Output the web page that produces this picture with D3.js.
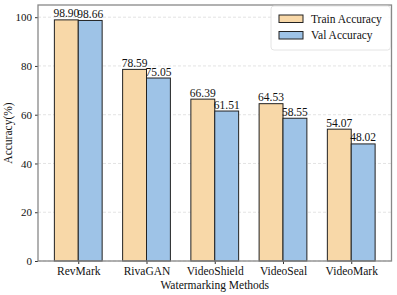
<!DOCTYPE html>
<html>
<head>
<meta charset="utf-8">
<script src="https://cdn.jsdelivr.net/npm/d3@7"></script>
<style>
  body { margin: 0; background: #fff; }
  text { font-family: "Liberation Serif", "Times New Roman", serif; fill: #111; }
</style>
</head>
<body>
<svg id="chart"></svg>
<script>
const methods = ["RevMark", "RivaGAN", "VideoShield", "VideoSeal", "VideoMark"]
const trainAcc = [98.90, 78.59, 66.39, 64.53, 54.07]
const valAcc = [98.66, 75.05, 61.51, 58.55, 48.02]
const yTicks = [0, 20, 40, 60, 80, 100]
const seriesNames = ["Train Accuracy", "Val Accuracy"]
const colors = ["#f8d8a8", "#9ec3e7"]

const width = 397, height = 295
const margin = { left: 38, right: 5.5, top: 5, bottom: 34 }

const svg = d3.select("#chart").attr("width", width).attr("height", height)

const x = d3.scalePoint()
    .domain(methods)
    .range([margin.left, width - margin.right])
    .padding(0.59)
const barW = x.step() * 0.35

const y = d3.scaleLinear()
    .domain([0, 105])
    .range([height - margin.bottom, margin.top])

// grid
svg.append("g")
    .selectAll("line")
    .data(yTicks)
    .enter()
    .append("line")
    .attr("x1", margin.left)
    .attr("x2", width - margin.right)
    .attr("y1", d => y(d))
    .attr("y2", d => y(d))
    .attr("stroke", "#dcdcdc")
    .attr("stroke-width", 0.8)
    .attr("stroke-dasharray", "3,2")

// bars
const series = [trainAcc, valAcc]
series.forEach((vals, si) => {
    const g = svg.append("g")
    g.selectAll("rect")
        .data(vals.map((v, i) => ({ m: methods[i], v: v })))
        .enter()
        .append("rect")
        .attr("x", d => x(d.m) + (si - 1) * barW)
        .attr("y", d => y(d.v))
        .attr("width", barW)
        .attr("height", d => y(0) - y(d.v))
        .attr("fill", colors[si])
        .attr("stroke", "#222")
        .attr("stroke-width", 1)
    g.selectAll("text")
        .data(vals.map((v, i) => ({ m: methods[i], v: v })))
        .enter()
        .append("text")
        .attr("x", d => x(d.m) + (si - 0.5) * barW)
        .attr("y", d => y(d.v) - 2.5)
        .attr("text-anchor", "middle")
        .attr("font-size", 11.5)
        .text(d => d.v.toFixed(2))
})

// axes
const yAxis = svg.append("g")
    .attr("transform", `translate(${margin.left},0)`)
    .call(d3.axisLeft(y).tickValues(yTicks).tickSize(3).tickPadding(3))
yAxis.select(".domain").remove()
yAxis.selectAll("line").attr("stroke", "#333")
yAxis.selectAll("text").attr("font-size", 11).style("font-family", "Liberation Serif")

const xAxis = svg.append("g")
    .attr("transform", `translate(0,${height - margin.bottom})`)
    .call(d3.axisBottom(x).tickSize(3).tickPadding(3))
xAxis.select(".domain").remove()
xAxis.selectAll("line").attr("stroke", "#333")
xAxis.selectAll("text").attr("font-size", 11.5).style("font-family", "Liberation Serif")

// frame
svg.append("rect")
    .attr("x", margin.left)
    .attr("y", margin.top)
    .attr("width", width - margin.left - margin.right)
    .attr("height", height - margin.top - margin.bottom)
    .attr("fill", "none")
    .attr("stroke", "#888")
    .attr("stroke-width", 1.3)

// axis titles
svg.append("text")
    .attr("x", (margin.left + width - margin.right) / 2)
    .attr("y", 289)
    .attr("text-anchor", "middle")
    .attr("font-size", 11.5)
    .text("Watermarking Methods")

svg.append("text")
    .attr("transform", `translate(12,${(margin.top + height - margin.bottom) / 2}) rotate(-90)`)
    .attr("text-anchor", "middle")
    .attr("font-size", 11.5)
    .text("Accuracy(%)")

// legend
const lg = svg.append("g")
lg.append("rect")
    .attr("x", 271)
    .attr("y", 6)
    .attr("width", 119.5)
    .attr("height", 44)
    .attr("rx", 3)
    .attr("fill", "#fff")
    .attr("fill-opacity", 0.85)
    .attr("stroke", "#ddd")
    .attr("stroke-width", 0.8)
seriesNames.forEach((name, i) => {
    lg.append("rect")
        .attr("x", 279)
        .attr("y", 15 + i * 16.5)
        .attr("width", 24)
        .attr("height", 7.5)
        .attr("fill", colors[i])
        .attr("stroke", "#222")
        .attr("stroke-width", 1)
    lg.append("text")
        .attr("x", 311)
        .attr("y", 22.5 + i * 16.5)
        .attr("font-size", 11.5)
        .text(name)
})
</script>
</body>
</html>
